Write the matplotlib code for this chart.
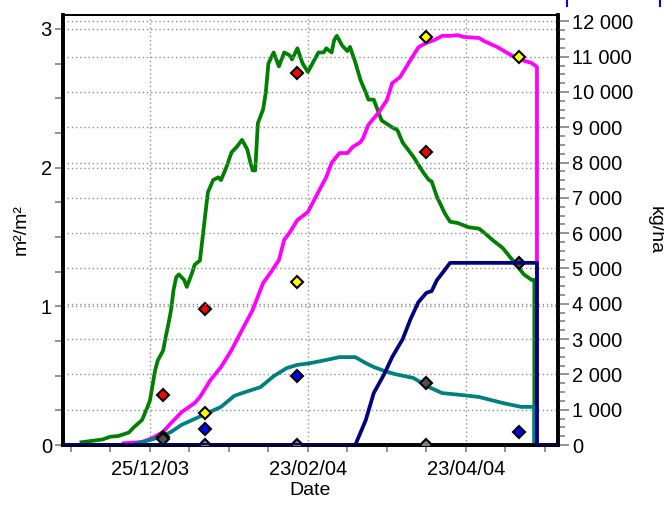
import matplotlib
matplotlib.use("Agg")
import matplotlib.pyplot as plt
import matplotlib.dates as mdates
from matplotlib.ticker import FixedLocator, MultipleLocator, FuncFormatter
from matplotlib.lines import Line2D
import numpy as np
import pandas as pd

plt.rcParams['font.family'] = ['Liberation Sans', 'DejaVu Sans']

# simulated LAI (m2/m2)
lai_dates = ['2003-11-29', '2003-12-07', '2003-12-10', '2003-12-13', '2003-12-17', '2003-12-19',
             '2003-12-22', '2003-12-24', '2003-12-25', '2003-12-27', '2003-12-28', '2003-12-30',
             '2003-12-31', '2004-01-01', '2004-01-02', '2004-01-03', '2004-01-04', '2004-01-05',
             '2004-01-07', '2004-01-08', '2004-01-10', '2004-01-11', '2004-01-13', '2004-01-16',
             '2004-01-18', '2004-01-20', '2004-01-21', '2004-01-23', '2004-01-25', '2004-01-27',
             '2004-01-29', '2004-01-31', '2004-02-01', '2004-02-02', '2004-02-03', '2004-02-04',
             '2004-02-06', '2004-02-07', '2004-02-08', '2004-02-10', '2004-02-12', '2004-02-14',
             '2004-02-16', '2004-02-17', '2004-02-19', '2004-02-21', '2004-02-23', '2004-02-27',
             '2004-02-29', '2004-03-01', '2004-03-03', '2004-03-04', '2004-03-05', '2004-03-07',
             '2004-03-09', '2004-03-10', '2004-03-12', '2004-03-14', '2004-03-16', '2004-03-17',
             '2004-03-19', '2004-03-22', '2004-03-26', '2004-03-28', '2004-03-30', '2004-04-03',
             '2004-04-07', '2004-04-09', '2004-04-10', '2004-04-12', '2004-04-15', '2004-04-17',
             '2004-04-20', '2004-04-24', '2004-04-28', '2004-04-30', '2004-05-03', '2004-05-07',
             '2004-05-10', '2004-05-13', '2004-05-15', '2004-05-18', '2004-05-19', '2004-05-19']
lai_sim = [0.02, 0.04, 0.06, 0.065, 0.09, 0.13,
           0.18, 0.27, 0.32, 0.54, 0.61, 0.68,
           0.78, 0.87, 0.97, 1.12, 1.21, 1.23,
           1.19, 1.14, 1.24, 1.30, 1.33, 1.82,
           1.91, 1.93, 1.91, 2.00, 2.11, 2.15,
           2.20, 2.13, 2.05, 1.98, 1.98, 2.32,
           2.42, 2.54, 2.75, 2.83, 2.73, 2.83,
           2.81, 2.78, 2.86, 2.75, 2.69, 2.83,
           2.83, 2.86, 2.83, 2.92, 2.95, 2.88,
           2.84, 2.87, 2.76, 2.63, 2.54, 2.49,
           2.49, 2.34, 2.29, 2.27, 2.18, 2.08,
           1.96, 1.91, 1.90, 1.79, 1.67, 1.61,
           1.60, 1.57, 1.56, 1.53, 1.48, 1.42,
           1.35, 1.28, 1.23, 1.19, 1.19, 0.0]

# simulated total biomass (kg/ha)
biom_dates = ['2003-12-15', '2003-12-22', '2003-12-26', '2003-12-30', '2004-01-02', '2004-01-06',
              '2004-01-11', '2004-01-13', '2004-01-17', '2004-01-21', '2004-01-25', '2004-01-29',
              '2004-02-02', '2004-02-06', '2004-02-09', '2004-02-12', '2004-02-14', '2004-02-16',
              '2004-02-19', '2004-02-23', '2004-02-27', '2004-03-01', '2004-03-03', '2004-03-06',
              '2004-03-09', '2004-03-11', '2004-03-14', '2004-03-15', '2004-03-17', '2004-03-21',
              '2004-03-24', '2004-03-26', '2004-03-29', '2004-04-02', '2004-04-05', '2004-04-08',
              '2004-04-11', '2004-04-14', '2004-04-17', '2004-04-20', '2004-04-22', '2004-04-28',
              '2004-04-30', '2004-05-05', '2004-05-10', '2004-05-14', '2004-05-18', '2004-05-20',
              '2004-05-20']
biom_sim = [50, 85, 200, 370, 620, 930,
            1190, 1360, 1840, 2210, 2690, 3260,
            3820, 4590, 4900, 5240, 5810, 6010,
            6370, 6600, 7170, 7590, 7990, 8270,
            8270, 8440, 8580, 8700, 9070, 9430,
            9770, 10250, 10420, 10910, 11270, 11390,
            11470, 11590, 11590, 11610, 11560, 11530,
            11440, 11270, 11050, 10910, 10820, 10710,
            0]

# simulated green leaf biomass (kg/ha)
leaf_dates = ['2003-12-20', '2003-12-25', '2003-12-29', '2004-01-02', '2004-01-06', '2004-01-11',
              '2004-01-16', '2004-01-21', '2004-01-26', '2004-01-29', '2004-02-05', '2004-02-10',
              '2004-02-15', '2004-02-19', '2004-02-24', '2004-03-01', '2004-03-06', '2004-03-12',
              '2004-03-16', '2004-03-19', '2004-03-23', '2004-03-27', '2004-04-03', '2004-04-09',
              '2004-04-14', '2004-04-21', '2004-04-28', '2004-05-07', '2004-05-14', '2004-05-19',
              '2004-05-19']
leaf_sim = [50, 140, 230, 370, 570, 740,
            910, 1080, 1390, 1470, 1640, 1950,
            2180, 2270, 2320, 2410, 2490, 2490,
            2320, 2210, 2100, 2010, 1900, 1640,
            1470, 1420, 1360, 1190, 1080, 1080,
            0]

# simulated grain yield (kg/ha)
grain_dates = ['2003-11-22', '2004-03-12', '2004-03-16', '2004-03-19', '2004-03-23', '2004-03-26',
               '2004-03-30', '2004-04-02', '2004-04-05', '2004-04-08', '2004-04-10', '2004-04-12',
               '2004-04-15', '2004-04-17', '2004-05-20', '2004-05-20', '2004-05-28']
grain_sim = [0, 0, 710, 1470, 2010, 2490,
             3000, 3570, 4050, 4310, 4360, 4670,
             4960, 5160, 5160, 0, 0]

# field observations
obs_dates = ['2003-12-30', '2004-01-15', '2004-02-19', '2004-04-08', '2004-05-13']
lai_obs = [0.36, 0.98, 2.68, 2.11, np.nan]
biom_obs = [230, 906, 4620, 11560, 10990]
leaf_obs = [np.nan, 453, 1955, np.nan, 368]
grain_obs = [np.nan, 0, 0, 0, np.nan]
stem_obs = [170, np.nan, np.nan, 1756, 5150]

x_start, x_end = pd.Timestamp('2003-11-22'), pd.Timestamp('2004-05-28')

fig = plt.figure(figsize=(6.64, 5.09), dpi=100)
ax = fig.add_axes([0.0949, 0.1257, 0.7455, 0.8448])
ax2 = ax.twinx()

lw = 2.7
ax.plot(pd.to_datetime(lai_dates), lai_sim, color='#008000', lw=lw, zorder=2)
ax2.plot(pd.to_datetime(biom_dates), biom_sim, color='#ff00ff', lw=lw, zorder=2)
ax2.plot(pd.to_datetime(leaf_dates), leaf_sim, color='#008080', lw=lw, zorder=2)

od = pd.to_datetime(obs_dates)
mk = dict(marker='D', ms=6.6, mec='black', mew=1.5, ls='none', zorder=4)
ax.plot(od, lai_obs, mfc='#ff0000', **mk)
ax2.plot(od, biom_obs, mfc='#ffff00', **mk)
ax2.plot(od, grain_obs, mfc='#808080', **mk)
ax2.plot(od, stem_obs, mfc='#505050', **mk)
ax2.plot(od, leaf_obs, mfc='#0000ff', **mk)
ax2.plot(pd.to_datetime(grain_dates), grain_sim, color='#000080', lw=lw, zorder=5)

ax.set_xlim(x_start, x_end)
ax.set_ylim(0, 3.10)
ax2.set_ylim(0, 12180)

# x ticks every 15 days, labels every 60
minor = pd.date_range('2003-11-25', '2004-05-23', freq='15D')
major = pd.date_range('2003-12-25', periods=3, freq='60D')
ax.xaxis.set_major_locator(FixedLocator(mdates.date2num(major)))
ax.xaxis.set_minor_locator(FixedLocator(mdates.date2num(minor)))
ax.xaxis.set_major_formatter(mdates.DateFormatter('%d/%m/%y'))

ax.yaxis.set_major_locator(MultipleLocator(1))
ax.yaxis.set_minor_locator(MultipleLocator(0.25))
ax2.yaxis.set_major_locator(MultipleLocator(1000))
ax2.yaxis.set_minor_locator(MultipleLocator(250))
ax2.yaxis.set_major_formatter(FuncFormatter(lambda v, p: f"{int(v):,}".replace(',', ' ')))

fs = 14.5
tick_kw = dict(color='#808080', width=1.2, labelsize=fs, labelcolor='black')
ax.tick_params(axis='x', which='both', direction='out', length=5, pad=6, **tick_kw)
ax.tick_params(axis='y', which='both', direction='out', length=6, pad=2, **tick_kw)
ax2.tick_params(axis='y', which='major', direction='out', length=8, pad=2, **tick_kw)
ax2.tick_params(axis='y', which='minor', direction='out', length=5, color='#808080', width=1.2)

grid_kw = dict(color='#909090', ls=(0, (1, 2)), lw=1.0)
ax.grid(True, which='major', axis='both', **grid_kw)
ax2.grid(True, which='major', axis='y', **grid_kw)
ax.set_axisbelow(True)
ax2.set_axisbelow(True)

for a in (ax, ax2):
    for side in ('left', 'right', 'bottom'):
        a.spines[side].set_linewidth(2.6)
        a.spines[side].set_color('black')
    a.spines['top'].set_linewidth(1.3)

ax.set_ylabel('m²/m²', fontsize=fs - 0.5, labelpad=8)
ax2.set_ylabel('kg/ha', fontsize=fs - 0.5, rotation=-90, labelpad=22)
ax.set_xlabel('Date', fontsize=fs - 0.5, labelpad=2)

# two blue strokes at the top-right edge
for xf in (567 / 664, 660 / 664):
    fig.add_artist(Line2D([xf, xf], [1.0, 1 - 6 / 509], color='#0000ff', lw=1.5))

fig.savefig('out.png', dpi=100)
